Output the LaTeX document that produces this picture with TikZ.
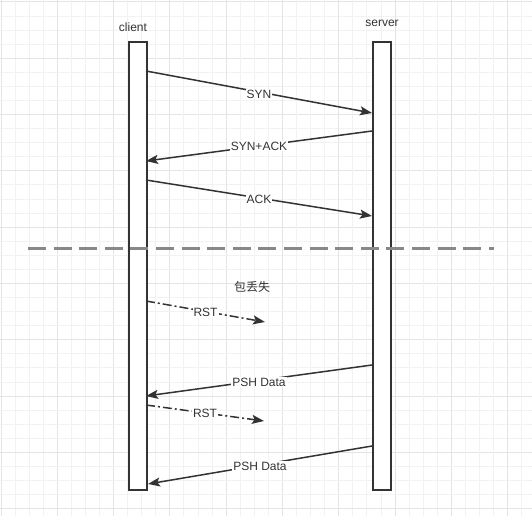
\documentclass[tikz,border=0pt]{standalone}
\usepackage{fontspec}
\setmainfont{Liberation Sans}
\newfontfamily\cjk{Noto Sans CJK SC}
\usetikzlibrary{arrows.meta,calc}
\definecolor{ink}{HTML}{333333}
\definecolor{gridminor}{HTML}{F2F2F2}
\definecolor{gridmajor}{HTML}{E4E4E4}
\definecolor{sepgray}{HTML}{888888}
\tikzset{
  life/.style={draw=ink,fill=white,line width=1.6pt},
  msg/.style={draw=ink,line width=1.5pt,-{Stealth[length=12pt,width=9pt,inset=2.5pt]}},
  rstmsg/.style={msg,dash pattern=on 9pt off 3pt on 2pt off 3pt},
  lbl/.style={fill=white,text=ink,font=\fontsize{12pt}{14pt}\selectfont,inner sep=1pt},
  head/.style={text=ink,font=\fontsize{12pt}{14pt}\selectfont,inner sep=0pt},
}
\begin{document}
\begin{tikzpicture}[x=1pt,y=-1pt]
\useasboundingbox (0,0) rectangle (532,516);
\fill[white] (0,0) rectangle (532,516);
% grid
\foreach \k in {0,...,37}{
  \pgfmathtruncatemacro{\m}{mod(\k,4)}
  \ifnum\m=0
    \draw[gridmajor,line width=1pt] ({1+14.075*\k},0) -- ({1+14.075*\k},516);
    \draw[gridmajor,line width=1pt] (0,{2+14.075*\k}) -- (532,{2+14.075*\k});
  \else
    \draw[gridminor,line width=1pt] ({1+14.075*\k},0) -- ({1+14.075*\k},516);
    \draw[gridminor,line width=1pt] (0,{2+14.075*\k}) -- (532,{2+14.075*\k});
  \fi
}
% lifelines
\node[life,minimum width=18pt,minimum height=448pt,inner sep=0pt,anchor=north west] (cb) at (128,41) {};
\node[life,minimum width=18pt,minimum height=448pt,inner sep=0pt,anchor=north west] (sb) at (372,41) {};
\node[head] (cl) at (133,27) {client};
\node[head] (sl) at (382,23) {server};
% separator
\coordinate (sepL) at (28,248.5);
\coordinate (sepR) at (494,248.5);
\draw[sepgray,line width=3pt,dash pattern=on 18pt off 7.6pt] (sepL) -- (sepR);
% endpoints
\coordinate (a1) at (146,71);   \coordinate (b1) at (372,113);
\coordinate (a2) at (372,131);  \coordinate (b2) at (146,161);
\coordinate (a3) at (146,180);  \coordinate (b3) at (372,216);
\coordinate (a4) at (146,301);  \coordinate (b4) at (265,322);
\coordinate (a5) at (372,365);  \coordinate (b5) at (146,396);
\coordinate (a6) at (146,405);  \coordinate (b6) at (264,421);
\coordinate (a7) at (372,446);  \coordinate (b7) at (148,484);
% messages
\draw[msg] (a1) -- node[lbl,yshift=-2pt] (l1) {SYN} (b1);
\draw[msg] (a2) -- node[lbl] (l2) {SYN+ACK} (b2);
\draw[msg] (a3) -- node[lbl,yshift=-1pt] (l3) {ACK} (b3);
\draw[rstmsg] (a4) -- node[lbl,yshift=-1pt] (l4) {RST} (b4);
\draw[msg] (a5) -- node[lbl,yshift=-1.5pt] (l5) {PSH Data} (b5);
\draw[rstmsg] (a6) -- node[lbl] (l6) {RST} (b6);
\draw[msg] (a7) -- node[lbl,yshift=-1pt] (l7) {PSH Data} (b7);
\node[head,font=\cjk\fontsize{12pt}{14pt}\selectfont] (lost) at (252,287) {包丢失};
\end{tikzpicture}
\end{document}
